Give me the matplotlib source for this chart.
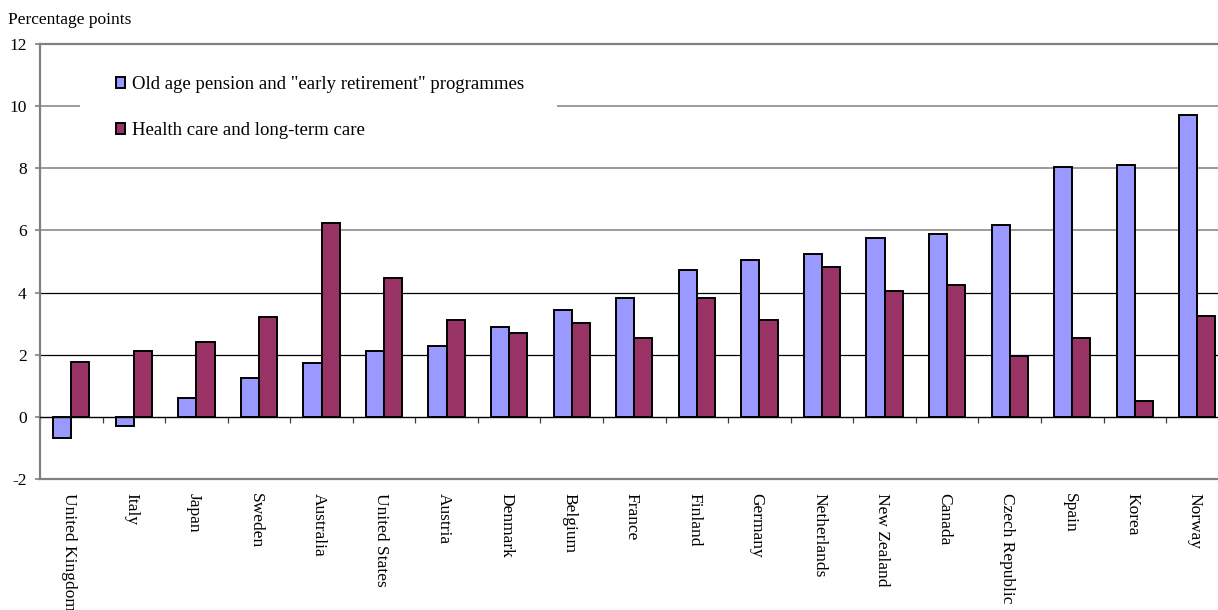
import numpy as np
import matplotlib.pyplot as plt
from matplotlib.patches import Rectangle

countries = ['United Kingdom', 'Italy', 'Japan', 'Sweden', 'Australia', 'United States',
             'Austria', 'Denmark', 'Belgium', 'France', 'Finland', 'Germany', 'Netherlands',
             'New Zealand', 'Canada', 'Czech Republic', 'Spain', 'Korea', 'Norway']
pension = [-0.67, -0.28, 0.6, 1.25, 1.73, 2.13, 2.27, 2.88, 3.45, 3.81, 4.74, 5.05, 5.24,
           5.77, 5.87, 6.19, 8.03, 8.10, 9.72]
health = [1.77, 2.13, 2.42, 3.22, 6.25, 4.48, 3.13, 2.70, 3.03, 2.54, 3.82, 3.13, 4.83,
          4.05, 4.25, 1.97, 2.53, 0.52, 3.26]
yticks = [-2, 0, 2, 4, 6, 8, 10, 12]

plt.rcParams['font.family'] = ['Liberation Serif', 'DejaVu Serif']

fig = plt.figure(figsize=(12.18, 6.10), dpi=100)
ax = fig.add_axes([40/1218, 131/610, 1178/1218, 435/610])

x = np.arange(len(countries))
w = 0.29
ax.bar(x - w/2, pension, w, color='#9999FF', edgecolor='black', linewidth=1.4,
       label='Old age pension and "early retirement" programmes', zorder=3)
ax.bar(x + w/2, health, w, color='#993366', edgecolor='black', linewidth=1.4,
       label='Health care and long-term care', zorder=3)

ax.set_xlim(-0.5, 18.33)
ax.set_ylim(-2, 12)

# gridlines
for v in [2, 4]:
    ax.axhline(v, color='black', linewidth=0.9, zorder=1)
for v in [6, 8, 10]:
    ax.axhline(v, color='#808080', linewidth=1.1, zorder=1)
ax.axhline(-2, color='#808080', linewidth=1.6, clip_on=False, zorder=2)

# white area behind the legend hides part of the 10 gridline
ax.add_patch(Rectangle((40/1178, 9.6), 477/1178, 0.8, transform=ax.get_yaxis_transform(),
                       facecolor='white', edgecolor='none', zorder=1.5))

ax.spines['right'].set_visible(False)
ax.spines['top'].set_color('#808080')
ax.spines['top'].set_linewidth(1.6)
ax.spines['left'].set_color('#808080')
ax.spines['left'].set_linewidth(1.6)
ax.spines['bottom'].set_position(('data', 0))
ax.spines['bottom'].set_color('black')
ax.spines['bottom'].set_linewidth(1.0)
ax.spines['bottom'].set_zorder(4)

ax.set_xticks(x[:-1] + 0.5)
ax.set_xticklabels([])
ax.tick_params(axis='x', direction='out', length=4, color='#404040', width=0.9)
ax.set_yticks(yticks)
ax.set_yticklabels([str(v) for v in yticks], fontsize=12.5)
ax.tick_params(axis='y', direction='out', length=3.6, color='#808080', width=1.2, pad=6)

for i, name in enumerate(countries):
    ax.annotate(name, xy=(i, -2), xytext=(-2, -10), textcoords='offset points',
                rotation=270, ha='center', va='top', fontsize=12.5, annotation_clip=False)

fig.text(8/1218, 1 - 20/610, 'Percentage points', fontsize=12.5, va='center', ha='left')

leg = ax.legend(loc='upper left', bbox_to_anchor=(76/1178, 1 - 32/435), fontsize=13.5,
                frameon=False, handlelength=0.5, handleheight=0.5, handletextpad=0.35,
                labelspacing=1.55, borderpad=0, borderaxespad=0)
for h in leg.legend_handles:
    h.set_linewidth(1.4)

fig.savefig('out.png', dpi=100)
